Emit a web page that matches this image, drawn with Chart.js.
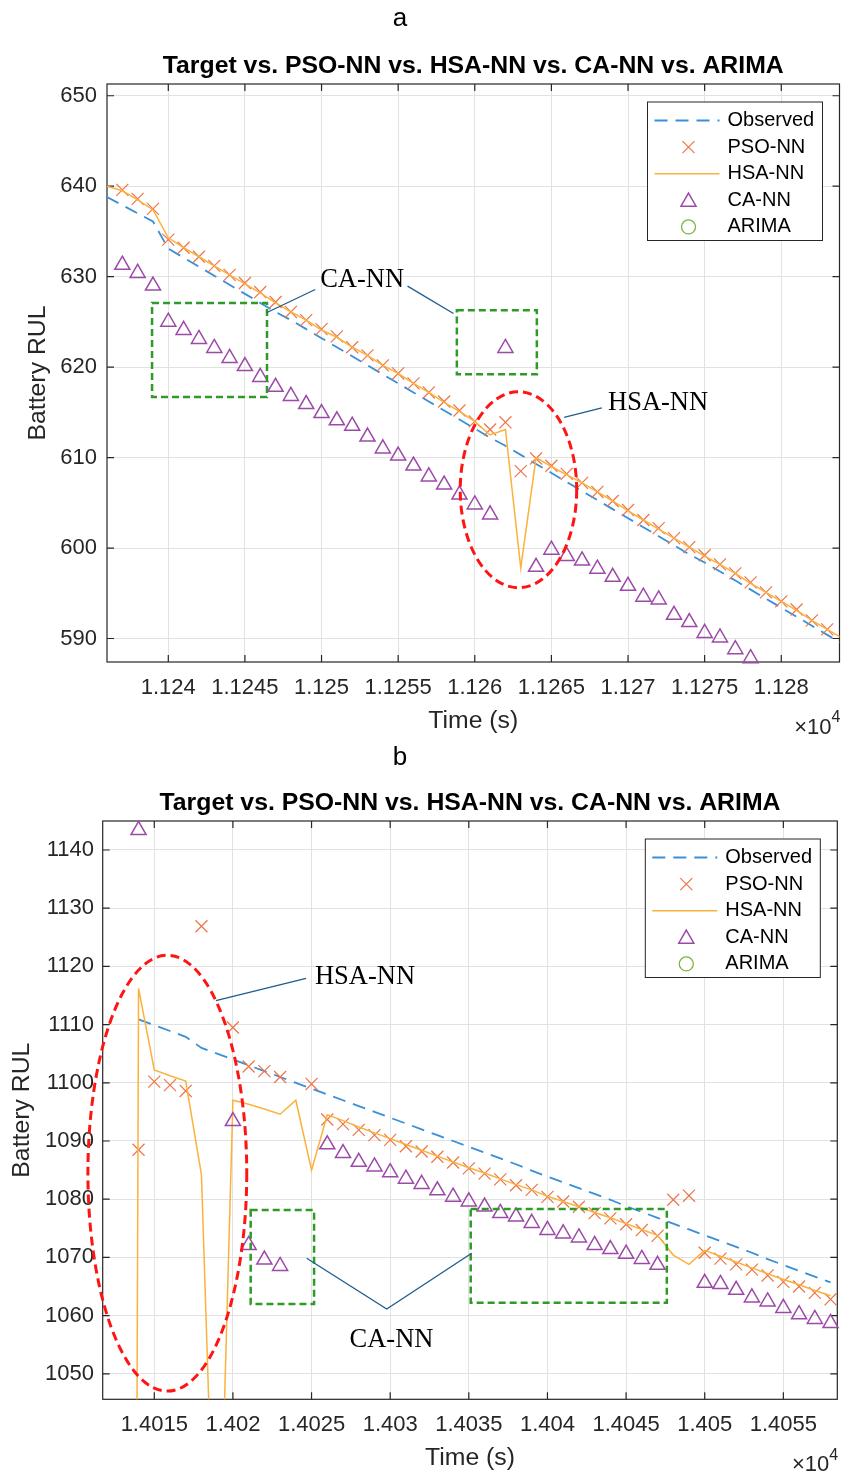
<!DOCTYPE html>
<html>
<head>
<meta charset="utf-8">
<script src="https://cdn.jsdelivr.net/npm/chart.js@4.4.1/dist/chart.umd.min.js"></script>
<style>
  html, body { margin: 0; padding: 0; background: #fff; }
  body { width: 842px; height: 1474px; position: relative; overflow: hidden; }
  canvas { position: absolute; left: 0; }
</style>
</head>
<body>
<canvas id="chartA" width="842" height="740" style="top:0"></canvas>
<canvas id="chartB" width="842" height="734" style="top:740px"></canvas>
<script>
// ---- panel a : time in seconds, RUL values ----
const timeA = [11236, 11237, 11238, 11239, 11240, 11241, 11242, 11243, 11244, 11245,
  11246, 11247, 11248, 11249, 11250, 11251, 11252, 11253, 11254, 11255,
  11256, 11257, 11258, 11259, 11260, 11261, 11262, 11263, 11264, 11265,
  11266, 11267, 11268, 11269, 11270, 11271, 11272, 11273, 11274, 11275,
  11276, 11277, 11278, 11279, 11280, 11281, 11282, 11283, 11284];
const observedA = [638.8, 637.9, 637.0, 636.1, 633.1, 632.1, 631.1, 630.1, 629.1, 628.1,
  627.1, 626.1, 625.2, 624.2, 623.2, 622.2, 621.2, 620.2, 619.2, 618.2,
  617.2, 616.2, 615.2, 614.2, 613.2, 612.2, 611.3, 610.3, 609.3, 608.3,
  607.3, 606.3, 605.3, 604.3, 603.3, 602.3, 601.3, 600.3, 599.3, 598.4,
  597.4, 596.4, 595.4, 594.4, 593.4, 592.4, 591.4, 590.4, 589.4];
const psoA = [null, 639.6, 638.6, 637.5, 634.1, 633.2, 632.2, 631.2, 630.2, 629.3,
  628.3, 627.2, 626.1, 625.2, 624.2, 623.4, 622.2, 621.3, 620.2, 619.3,
  618.2, 617.2, 616.2, 615.2, 614.0, 613.1, 613.9, 608.5, 609.9, 609.1,
  608.2, 607.2, 606.2, 605.2, 604.2, 603.1, 602.2, 601.1, 600.1, 599.2,
  598.2, 597.2, 596.2, 595.1, 594.1, 593.2, 592.0, 591.0, null];
const hsaA = [640.0, 639.5, 638.5, 637.4, 634.3, 633.2, 632.2, 631.2, 630.2, 629.2,
  628.2, 627.1, 626.1, 625.2, 624.1, 623.3, 622.2, 621.3, 620.2, 619.3,
  618.2, 617.2, 616.1, 615.1, 614.0, 612.5, 613.1, 597.8, 610.0, 609.0,
  608.1, 607.2, 606.2, 605.2, 604.1, 603.1, 602.1, 601.1, 600.1, 599.1,
  598.2, 597.2, 596.1, 595.1, 594.1, 593.1, 592.0, 591.0, 590.0];
const caA = [null, 631.3, 630.4, 629.0, 625.0, 624.1, 623.1, 622.1, 621.0, 620.1,
  618.9, 617.8, 616.8, 615.9, 614.9, 614.1, 613.5, 612.3, 611.0, 610.2,
  609.1, 607.9, 607.0, 605.9, 604.8, 603.7, 622.1, null, 597.9, 599.8,
  599.1, 598.6, 597.7, 596.8, 595.8, 594.6, 594.3, 592.6, 591.8, 590.6,
  590.1, 588.8, 587.8, null, null, null, null, null, null];
const xTicksA = [11240, 11245, 11250, 11255, 11260, 11265, 11270, 11275, 11280];
const yTicksA = [590, 600, 610, 620, 630, 640, 650];

// ---- panel b ----
const timeB = [14013, 14014, 14015, 14016, 14017, 14018, 14019,
  14020, 14021, 14022, 14023, 14024, 14025, 14026, 14027, 14028, 14029,
  14030, 14031, 14032, 14033, 14034, 14035, 14036, 14037, 14038, 14039,
  14040, 14041, 14042, 14043, 14044, 14045, 14046, 14047, 14048, 14049,
  14050, 14051, 14052, 14053, 14054, 14055, 14056, 14057, 14058];
const observedB = [null, 1110.9, 1109.9, 1108.9, 1107.9, 1106.0, 1105.0,
  1104.0, 1103.0, 1102.0, 1101.0, 1100.0, 1099.0, 1098.0, 1097.0, 1096.0, 1095.0,
  1094.0, 1093.0, 1092.0, 1091.0, 1090.0, 1089.0, 1088.0, 1087.0, 1086.0, 1084.9,
  1083.9, 1082.9, 1081.9, 1080.9, 1079.9, 1078.8, 1077.8, 1076.8, 1075.8, 1074.8,
  1073.8, 1072.8, 1071.8, 1070.8, 1069.7, 1068.7, 1067.7, 1066.7, 1065.7];
const psoB = [null, 1088.5, 1100.2, 1099.6, 1098.6, 1126.9, null,
  1109.5, 1102.8, 1102.0, 1101.0, null, 1099.8, 1093.7, 1092.9, 1091.9, 1091.0,
  1090.2, 1089.1, 1088.2, 1087.3, 1086.3, 1085.3, 1084.4, 1083.4, 1082.4, 1081.6,
  1080.4, 1079.6, 1078.7, 1077.6, 1076.7, 1075.7, 1074.7, 1073.7, 1079.9, 1080.6,
  1070.8, 1069.8, 1068.8, 1067.9, 1066.9, 1065.8, 1065.0, 1063.9, 1062.8];
const hsaB = [380, 1116.2, 1102.2, 1101.2, 1100.3, 1084.2, 1000,
  1097.0, 1096.3, 1095.5, 1094.6, 1097.0, 1085.0, 1094.5, 1093.5, 1092.4, 1091.4,
  1090.4, 1089.4, 1088.4, 1087.4, 1086.4, 1085.4, 1084.5, 1083.5, 1082.5, 1081.6,
  1080.5, 1079.6, 1078.7, 1077.7, 1076.8, 1075.8, 1074.8, 1073.8, 1070.4, 1068.8,
  1071.2, 1070.2, 1069.2, 1068.2, 1067.2, 1066.2, 1065.3, 1064.3, 1063.4];
const caB = [null, 1143.4, null, null, null, null, null,
  1093.4, 1072.1, 1069.6, 1068.5, null, null, 1089.4, 1087.9, 1086.4, 1085.6,
  1084.6, 1083.5, 1082.6, 1081.5, 1080.4, 1079.6, 1078.7, 1077.6, 1077.0, 1075.9,
  1074.7, 1074.1, 1073.4, 1072.1, 1071.4, 1070.6, 1069.7, 1068.7, null, null,
  1065.6, 1065.4, 1064.4, 1063.1, 1062.4, 1061.3, 1060.2, 1059.4, 1058.7];
const xTicksB = [14015, 14020, 14025, 14030, 14035, 14040, 14045, 14050, 14055];
const yTicksB = [1050, 1060, 1070, 1080, 1090, 1100, 1110, 1120, 1130, 1140];

const FONT = '"Liberation Sans", Arial, Helvetica, sans-serif';
const SERIF = '"Liberation Serif", "Times New Roman", serif';
const INK = '#262626';
const GRID = '#e2e2e2';
const COL = { obs: '#3a8fd9', pso: '#ee7448', hsa: '#fbb13c', ca: '#9c4aa8', arima: '#7cb342' };

// annotation shapes, in data units
const marksA = [
  { kind: 'box', x0: 11238.94, x1: 11246.44, y0: 616.7, y1: 627.1 },
  { kind: 'box', x0: 11258.83, x1: 11264.05, y0: 619.2, y1: 626.3 },
  { kind: 'ellipse', cx: 11262.85, cy: 606.44, rx: 3.80, ry: 10.83 },
  { kind: 'line', pts: [[11246.44, 626.04], [11249.59, 628.58]] },
  { kind: 'line', pts: [[11255.61, 628.95], [11258.61, 625.93]] },
  { kind: 'line', pts: [[11265.83, 614.44], [11268.29, 615.50]] },
  { kind: 'text', x: 11252.65, y: 629.6, text: 'CA-NN' },
  { kind: 'text', x: 11271.96, y: 615.99, text: 'HSA-NN' }
];
const marksB = [
  { kind: 'ellipse', cx: 14015.83, cy: 1084.47, rx: 5.05, ry: 37.44 },
  { kind: 'box', x0: 14021.13, x1: 14025.16, y0: 1061.99, y1: 1078.14 },
  { kind: 'box', x0: 14035.12, x1: 14047.59, y0: 1062.22, y1: 1078.32 },
  { kind: 'line', pts: [[14018.92, 1114.11], [14024.65, 1117.96]] },
  { kind: 'line', pts: [[14024.69, 1069.85], [14029.78, 1061.13], [14035.18, 1070.70]] },
  { kind: 'text', x: 14028.40, y: 1118.23, text: 'HSA-NN' },
  { kind: 'text', x: 14030.08, y: 1055.81, text: 'CA-NN' }
];

function drawMarker(ctx, style, x, y, r) {
  ctx.beginPath();
  if (style === 'crossRot') {
    const d = r * Math.SQRT1_2;
    ctx.moveTo(x - d, y - d); ctx.lineTo(x + d, y + d);
    ctx.moveTo(x - d, y + d); ctx.lineTo(x + d, y - d);
  } else if (style === 'triangle') {
    ctx.moveTo(x, y - r);
    ctx.lineTo(x + r * 0.866, y + r / 2);
    ctx.lineTo(x - r * 0.866, y + r / 2);
    ctx.closePath();
  } else {
    ctx.arc(x, y, r, 0, Math.PI * 2);
  }
  ctx.stroke();
}

// MATLAB-like box, inward ticks, callouts, legend and exponent label
const figureDecor = {
  id: 'figureDecor',
  beforeDatasetsDraw(chart) {
    const { ctx, chartArea: ca, scales: { x, y } } = chart;
    ctx.save();
    ctx.strokeStyle = INK;
    ctx.lineWidth = 1.2;
    ctx.strokeRect(ca.left, ca.top, ca.width, ca.height);
    ctx.beginPath();
    const tl = 7;
    x.ticks.forEach(t => {
      const p = x.getPixelForValue(t.value);
      ctx.moveTo(p, ca.bottom); ctx.lineTo(p, ca.bottom - tl);
      ctx.moveTo(p, ca.top); ctx.lineTo(p, ca.top + tl);
    });
    y.ticks.forEach(t => {
      const p = y.getPixelForValue(t.value);
      ctx.moveTo(ca.left, p); ctx.lineTo(ca.left + tl, p);
      ctx.moveTo(ca.right, p); ctx.lineTo(ca.right - tl, p);
    });
    ctx.stroke();
    ctx.restore();
  },
  afterDatasetsDraw(chart, _args, opts) {
    const { ctx, scales: { x, y } } = chart;
    const X = v => x.getPixelForValue(v);
    const Y = v => y.getPixelForValue(v);
    ctx.save();
    opts.marks.forEach(m => {
      if (m.kind === 'box') {
        ctx.setLineDash([7, 4]);
        ctx.strokeStyle = '#2f9a26';
        ctx.lineWidth = 2.5;
        ctx.strokeRect(X(m.x0), Y(m.y1), X(m.x1) - X(m.x0), Y(m.y0) - Y(m.y1));
      } else if (m.kind === 'ellipse') {
        ctx.setLineDash([9, 5]);
        ctx.strokeStyle = '#ff1414';
        ctx.lineWidth = 3;
        ctx.beginPath();
        ctx.ellipse(X(m.cx), Y(m.cy), Math.abs(X(m.cx + m.rx) - X(m.cx)),
          Math.abs(Y(m.cy + m.ry) - Y(m.cy)), 0, 0, Math.PI * 2);
        ctx.stroke();
      } else if (m.kind === 'line') {
        ctx.setLineDash([]);
        ctx.strokeStyle = '#1f5b8c';
        ctx.lineWidth = 1.3;
        ctx.beginPath();
        m.pts.forEach(([a, b], i) => i ? ctx.lineTo(X(a), Y(b)) : ctx.moveTo(X(a), Y(b)));
        ctx.stroke();
      } else if (m.kind === 'text') {
        ctx.fillStyle = '#000';
        ctx.font = '26.5px ' + SERIF;
        ctx.textAlign = 'center';
        ctx.textBaseline = 'middle';
        ctx.fillText(m.text, X(m.x), Y(m.y));
      }
    });
    ctx.restore();
  },
  afterDraw(chart, _args, opts) {
    const { ctx, chartArea: ca } = chart;
    ctx.save();
    // legend
    const w = 175, h = 138.5;
    const left = ca.right - 17 - w, top = ca.top + 18;
    ctx.fillStyle = '#fff';
    ctx.fillRect(left, top, w, h);
    ctx.strokeStyle = INK;
    ctx.lineWidth = 1;
    ctx.strokeRect(left, top, w, h);
    chart.data.datasets.forEach((ds, i) => {
      const cy = top + 18.5 + i * 26.6;
      ctx.strokeStyle = ds.borderColor;
      if (ds.showLine) {
        ctx.setLineDash(ds.borderDash || []);
        ctx.lineWidth = ds.borderWidth;
        ctx.beginPath();
        ctx.moveTo(left + 7, cy); ctx.lineTo(left + 72, cy);
        ctx.stroke();
        ctx.setLineDash([]);
      } else {
        ctx.lineWidth = ds.pointBorderWidth;
        drawMarker(ctx, ds.pointStyle, left + 41, cy + (ds.pointStyle === 'triangle' ? 1.5 : 0), ds.pointRadius);
      }
      ctx.fillStyle = '#000';
      ctx.font = '20px ' + FONT;
      ctx.textAlign = 'left';
      ctx.textBaseline = 'middle';
      ctx.fillText(ds.label, left + 80, cy);
    });
    // exponent of the time axis
    ctx.fillStyle = INK;
    ctx.textBaseline = 'middle';
    ctx.textAlign = 'right';
    ctx.font = '22px ' + FONT;
    ctx.fillText('\u00d710', ca.right - 8, ca.bottom + 66);
    ctx.textAlign = 'left';
    ctx.font = '16px ' + FONT;
    ctx.fillText('4', ca.right - 8, ca.bottom + 56);
    // panel letter
    ctx.fillStyle = '#000';
    ctx.textAlign = 'center';
    ctx.font = '26px ' + FONT;
    ctx.fillText(opts.letter, 400, opts.letterY);
    ctx.restore();
  }
};

function pairs(t, v) {
  return t.map((x, i) => ({ x, y: v[i] })).filter(p => p.y !== null);
}

function buildChart(id, p) {
  const L = p.layout;
  return new Chart(document.getElementById(id), {
    type: 'scatter',
    data: {
      datasets: [
        { label: 'Observed', data: pairs(p.time, p.obs), showLine: true, borderColor: COL.obs,
          borderWidth: 1.8, borderDash: [13, 8], pointRadius: 0, clip: 0, order: 5 },
        { label: 'PSO-NN', data: pairs(p.time, p.pso), showLine: false, pointStyle: 'crossRot',
          pointRadius: 8.5, borderColor: COL.pso, backgroundColor: 'rgba(0,0,0,0)',
          pointBorderWidth: 1.2, clip: false, order: 4 },
        { label: 'HSA-NN', data: pairs(p.time, p.hsa), showLine: true, borderColor: COL.hsa,
          borderWidth: 1.5, pointRadius: 0, clip: 0, order: 3 },
        { label: 'CA-NN', data: pairs(p.time, p.ca), showLine: false, pointStyle: 'triangle',
          pointRadius: 8.7, borderColor: COL.ca, backgroundColor: 'rgba(0,0,0,0)',
          pointBorderWidth: 1.5, clip: false, order: 2 },
        { label: 'ARIMA', data: [], showLine: false, pointStyle: 'circle', pointRadius: 7,
          borderColor: COL.arima, backgroundColor: 'rgba(0,0,0,0)', pointBorderWidth: 1.3, order: 1 }
      ]
    },
    options: {
      responsive: false,
      animation: false,
      events: [],
      layout: { autoPadding: false, padding: { left: 0, right: L.right, top: 0, bottom: 0 } },
      plugins: {
        legend: { display: false },
        tooltip: { enabled: false },
        title: {
          display: true,
          fullSize: false,
          text: 'Target vs. PSO-NN vs. HSA-NN vs. CA-NN vs. ARIMA',
          color: '#000',
          font: { family: FONT, size: 24.8, weight: 'bold', lineHeight: 1 },
          padding: { top: L.titleTop, bottom: L.titleBottom }
        },
        figureDecor: { letter: p.letter, letterY: L.letterY, marks: p.marks }
      },
      scales: {
        x: {
          type: 'linear', min: p.xMin, max: p.xMax,
          afterBuildTicks: s => { s.ticks = p.xTicks.map(v => ({ value: v })); },
          afterFit: s => { s.height = L.xHeight; s.paddingLeft = 0; s.paddingRight = 0; },
          grid: { color: GRID, drawTicks: false },
          border: { display: false },
          ticks: {
            autoSkip: false, maxRotation: 0, padding: L.xTickPad, color: INK,
            font: { family: FONT, size: 22, lineHeight: 1 },
            callback: v => String(+(v / 1e4).toFixed(4))
          },
          title: { display: true, text: 'Time (s)', color: INK,
            font: { family: FONT, size: 24.8, lineHeight: 1 },
            padding: { top: 0, bottom: L.xTitlePad } }
        },
        y: {
          type: 'linear', min: p.yMin, max: p.yMax,
          afterBuildTicks: s => { s.ticks = p.yTicks.map(v => ({ value: v })); },
          afterFit: s => { s.width = L.yWidth; s.paddingTop = 0; s.paddingBottom = 0; },
          grid: { color: GRID, drawTicks: false },
          border: { display: false },
          ticks: { padding: L.yTickPad, color: INK, font: { family: FONT, size: 22, lineHeight: 1 },
            callback: v => String(v) },
          title: { display: true, text: 'Battery RUL', color: INK,
            font: { family: FONT, size: 24.8, lineHeight: 1 },
            padding: { top: L.yTitlePad, bottom: 0 } }
        }
      }
    },
    plugins: [figureDecor]
  });
}

buildChart('chartA', {
  letter: 'a', time: timeA, obs: observedA, pso: psoA, hsa: hsaA, ca: caA,
  xMin: 11236, xMax: 11283.8, yMin: 587.4, yMax: 651.3,
  xTicks: xTicksA, yTicks: yTicksA, marks: marksA,
  layout: { yWidth: 107, right: 2.5, xHeight: 78, titleTop: 54, titleBottom: 5.2,
    yTitlePad: 25.6, xTitlePad: 6.6, yTickPad: 10, xTickPad: 15, letterY: 19 }
});

buildChart('chartB', {
  letter: 'b', time: timeB, obs: observedB, pso: psoB, hsa: hsaB, ca: caB,
  xMin: 14011.72, xMax: 14058.43, yMin: 1045.62, yMax: 1144.98,
  xTicks: xTicksB, yTicks: yTicksB, marks: marksB,
  layout: { yWidth: 102.7, right: 4.7, xHeight: 74.7, titleTop: 50.6, titleBottom: 5.6,
    yTitlePad: 9.6, xTitlePad: 3.6, yTickPad: 8.7, xTickPad: 14.7, letterY: 18 }
});
</script>
</body>
</html>
